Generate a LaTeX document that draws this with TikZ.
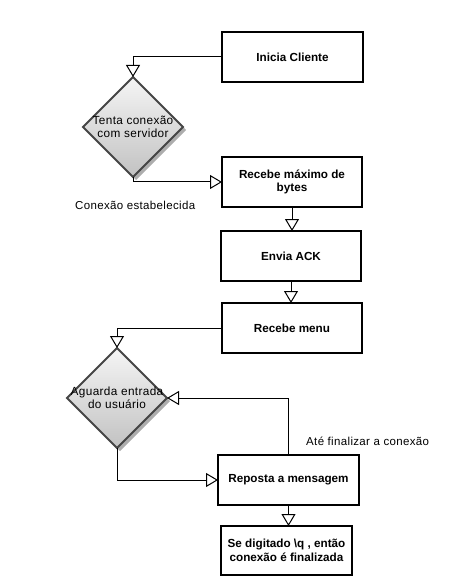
\documentclass[tikz,border=0pt]{standalone}
\usepackage{fontspec}
\setmainfont{Liberation Sans}
\newfontfamily\notefont[LetterSpace=3]{Liberation Sans}
\usetikzlibrary{arrows.meta,shapes.geometric,shadows}
\begin{document}
\begin{tikzpicture}[x=1pt,y=-1pt,
  stepbox/.style={draw=black, line width=2pt, rectangle, minimum height=50pt, align=center, inner sep=2pt, outer sep=0pt,
    font=\fontsize{11.7}{13.5}\selectfont\bfseries},
  decision/.style={diamond, draw=black!73, line width=2pt, minimum width=100pt, minimum height=100pt, inner sep=0pt, outer sep=0pt,
    top color=black!4, bottom color=black!24,
    drop shadow={shadow xshift=3pt, shadow yshift=-3pt, fill=black!32, opacity=1}},
  dtext/.style={align=center, font=\notefont\fontsize{11.8}{13.5}\selectfont},
  conn/.style={draw=black, line width=1pt, -{Triangle[open, length=12pt, width=14pt, line width=1pt]}},
  note/.style={anchor=west, inner sep=0pt, font=\notefont\fontsize{11.5}{13}\selectfont}]
\useasboundingbox (0,0) rectangle (450,585);

\node[stepbox, minimum width=141pt] (init) at (292.5,57) {Inicia Cliente};
\node[decision, label={[dtext]center:Tenta conexão\\com servidor}] (d1) at (133,127) {};
\node[stepbox, minimum width=140pt] (recmax) at (292,182) {Recebe máximo de\\bytes};
\node[stepbox, minimum width=140pt] (envia) at (291,256) {Envia ACK};
\node[stepbox, minimum width=140pt] (menu) at (292,328) {Recebe menu};
\node[decision, label={[dtext]center:Aguarda entrada\\do usuário}] (d2) at (117,398) {};
\node[stepbox, minimum width=141pt] (resp) at (288.5,480) {Reposta a mensagem};
\node[stepbox, minimum width=131pt, minimum height=49pt] (final) at (286.5,550.5) {Se digitado \textbackslash q , então\\conexão é finalizada};

\node[note] (l1) at (75,205) {Conexão estabelecida};
\node[note] (l2) at (306,441) {Até finalizar a conexão};

\draw[conn] (init.west) -| (d1.north);
\draw[conn] (d1.south) |- (recmax.west);
\draw[conn] (recmax.south) -- (recmax.south |- envia.north);
\draw[conn] (envia.south) -- (envia.south |- menu.north);
\draw[conn] (menu.west) -| (d2.north);
\draw[conn] (d2.south) |- (resp.west);
\draw[conn] (resp.north) |- (d2.east);
\draw[conn] (resp.south) -- (resp.south |- final.north);
\end{tikzpicture}
\end{document}
